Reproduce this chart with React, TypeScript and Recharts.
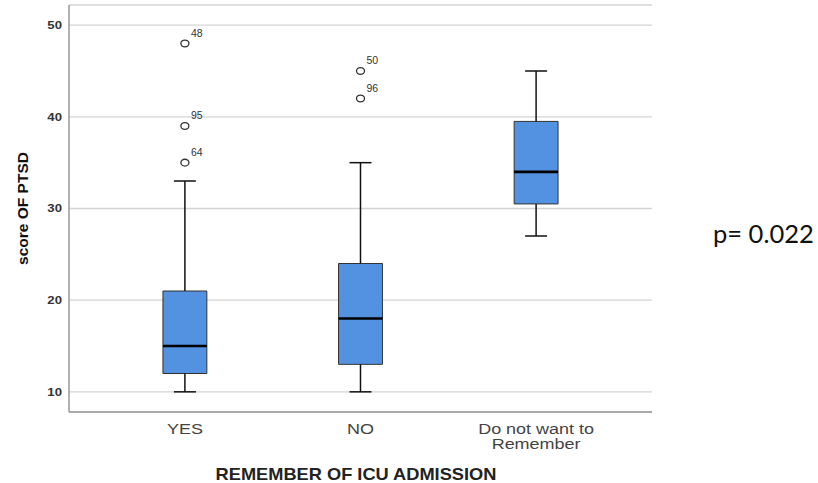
import { ComposedChart, XAxis, YAxis, CartesianGrid, ReferenceArea, ReferenceLine, Scatter } from "recharts";

// group labels, one box per group
const categories = ["YES", "NO", "Do not want to|Remember"];
const whiskerLow = [10, 10, 27];
const quartile1 = [12, 13, 30.5];
const medians = [15, 18, 34];
const quartile3 = [21, 24, 39.5];
const whiskerHigh = [33, 35, 45];

// outliers (case numbers as labels)
const outlierGroup = [0, 0, 0, 1, 1];
const outlierValue = [48, 39, 35, 45, 42];
const outlierCase = ["48", "95", "64", "50", "96"];

const yTicks = [10, 20, 30, 40, 50];

const BOX_HALF = 0.125;
const CAP_HALF = 0.0625;
const BOX_FILL = "#5292e0";

const outliers = outlierValue.map((v, i) => ({ x: outlierGroup[i], y: v, id: outlierCase[i] }));

function XTick({ x, y, payload }: any) {
  const lines = categories[payload.value].split("|");
  return (
    <g transform={`translate(${x},${y})`}>
      <text textAnchor="middle" fontSize={15} fill="#444" fontFamily="Liberation Sans, Arial, sans-serif" transform="scale(1.2,1)">
        {lines.map((l, i) => (
          <tspan key={i} x={0} dy={i === 0 ? 22 : 15.5}>{l}</tspan>
        ))}
      </text>
    </g>
  );
}

function YTick({ x, y, payload }: any) {
  return (
    <g transform={`translate(${x},${y})`}>
      <text textAnchor="end" dy="0.36em" fontSize={11} fontWeight="bold" fill="#333" fontFamily="Liberation Sans, Arial, sans-serif" transform="scale(1.2,1)">
        {payload.value}
      </text>
    </g>
  );
}

function OutlierDot({ cx, cy, payload }: any) {
  return (
    <g>
      <ellipse cx={cx} cy={cy} rx={4} ry={3.4} fill="#fff" stroke="#333" strokeWidth={1.3} />
      <text x={cx + 6} y={cy - 7} fontSize={10.5} fill="#333" fontFamily="Liberation Sans, Arial, sans-serif">{payload.id}</text>
    </g>
  );
}

export default function App() {
  return (
    <div style={{ position: "absolute", left: 0, top: 0, width: 818, height: 483, background: "#fff" }}>
      <ComposedChart width={818} height={483} margin={{ top: 5, right: 166, bottom: 0, left: 0 }}>
        <CartesianGrid horizontal vertical={false} stroke="#d4d4d4" strokeWidth={1.3} />
        <XAxis type="number" dataKey="x" domain={[-0.66, 2.66]} ticks={[0, 1, 2]} allowDataOverflow
          height={71} tickSize={0} tickMargin={0} tickLine={false} axisLine={{ stroke: "#999", strokeWidth: 1.5 }} tick={<XTick />} />
        <YAxis type="number" dataKey="y" domain={[7.8, 52.2]} ticks={yTicks} allowDataOverflow
          width={69} tickSize={0} tickMargin={7} tickLine={false} axisLine={{ stroke: "#999", strokeWidth: 1.5 }} tick={<YTick />} />
        {categories.map((_, i) => (
          <ReferenceLine key={`wl${i}`} segment={[{ x: i, y: whiskerLow[i] }, { x: i, y: quartile1[i] }]} stroke="#111" strokeWidth={1.5} />
        ))}
        {categories.map((_, i) => (
          <ReferenceLine key={`wh${i}`} segment={[{ x: i, y: quartile3[i] }, { x: i, y: whiskerHigh[i] }]} stroke="#111" strokeWidth={1.5} />
        ))}
        {categories.map((_, i) => (
          <ReferenceLine key={`cl${i}`} segment={[{ x: i - CAP_HALF, y: whiskerLow[i] }, { x: i + CAP_HALF, y: whiskerLow[i] }]} stroke="#111" strokeWidth={1.5} />
        ))}
        {categories.map((_, i) => (
          <ReferenceLine key={`ch${i}`} segment={[{ x: i - CAP_HALF, y: whiskerHigh[i] }, { x: i + CAP_HALF, y: whiskerHigh[i] }]} stroke="#111" strokeWidth={1.5} />
        ))}
        {categories.map((_, i) => (
          <ReferenceArea key={`b${i}`} x1={i - BOX_HALF} x2={i + BOX_HALF} y1={quartile1[i]} y2={quartile3[i]}
            fill={BOX_FILL} fillOpacity={1} stroke="#333" strokeWidth={1} />
        ))}
        {categories.map((_, i) => (
          <ReferenceLine key={`m${i}`} segment={[{ x: i - BOX_HALF, y: medians[i] }, { x: i + BOX_HALF, y: medians[i] }]} stroke="#000" strokeWidth={2.6} />
        ))}
        <Scatter data={outliers} dataKey="y" shape={<OutlierDot />} isAnimationActive={false} />
      </ComposedChart>
      <svg width={818} height={483} style={{ position: "absolute", left: 0, top: 0, pointerEvents: "none" }}>
        <text transform="translate(28,208.5) rotate(-90)" textAnchor="middle" fontSize={15.5} fontWeight="bold" fill="#111"
          fontFamily="Liberation Sans, Arial, sans-serif">score OF PTSD</text>
        <text transform="translate(356,480) scale(1.14,1)" textAnchor="middle" fontSize={16} fontWeight="bold" fill="#222"
          fontFamily="Liberation Sans, Arial, sans-serif">REMEMBER OF ICU ADMISSION</text>
        <text x={713} y={243} fontSize={25.5} fill="#111" fontFamily="Lato, sans-serif">p= 0.022</text>
      </svg>
    </div>
  );
}
